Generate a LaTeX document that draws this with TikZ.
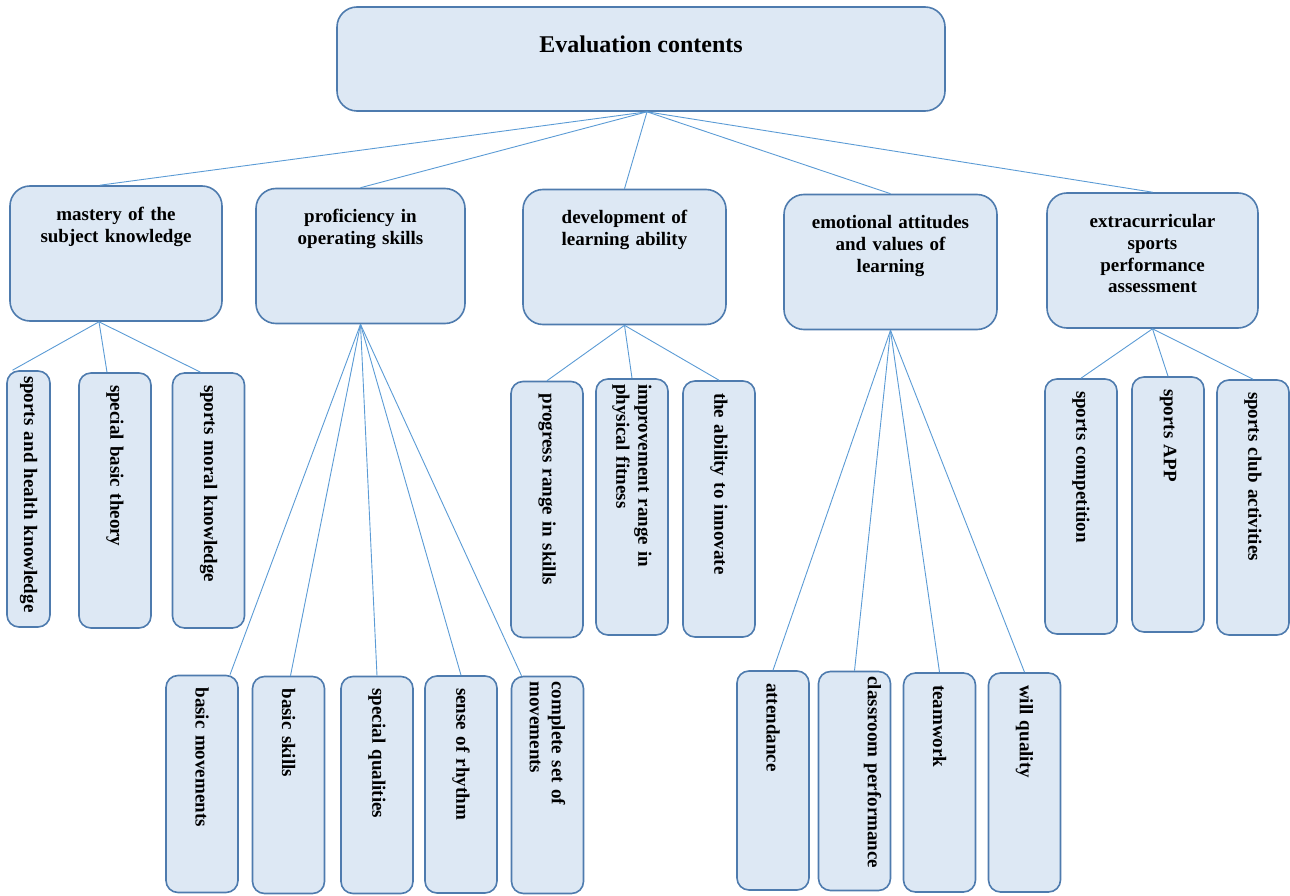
\documentclass[tikz,border=0pt]{standalone}
\usepackage{fontspec}
\setmainfont{Liberation Serif}
\definecolor{boxfill}{HTML}{DDE8F4}
\definecolor{boxline}{HTML}{4E7BAE}
\definecolor{linkline}{HTML}{5B9BD5}

\begin{document}
\begin{tikzpicture}[x=1pt,y=-1pt,
  every node/.style={draw=boxline,fill=boxfill,line width=1.6pt,font=\bfseries\fontsize{19}{22}\selectfont},
  root/.style={rounded corners=20pt,minimum width=608pt,text height=46pt,text depth=58pt,inner ysep=0pt,font=\bfseries\fontsize{24}{28}\selectfont},
  cat/.style={rounded corners=20pt,text width=190pt,align=center,text height=34pt,text depth=101pt,inner ysep=0pt,inner xsep=4pt},
  leaf/.style={rounded corners=12pt,rotate=-90,align=left,inner xsep=12pt,inner ysep=0pt,minimum height=72pt},
  link/.style={draw=linkline,line width=0.9pt}]
\useasboundingbox (0,0) rectangle (1290,896);
\node[root] (root) at (641,59) {Evaluation contents};
\node[cat,minimum width=212pt] (know) at (116,253.5) {mastery of the\\subject knowledge};
\node[cat,minimum width=209pt] (skill) at (360.5,256) {proficiency in\\operating skills};
\node[cat,minimum width=203pt] (learn) at (624.5,257) {development of\\learning ability};
\node[cat,minimum width=213pt] (emo) at (890.5,262) {emotional attitudes\\and values of\\learning};
\node[cat,minimum width=211pt] (extra) at (1152.5,260.5) {extracurricular\\sports\\performance\\assessment};
% knowledge
\node[leaf,text width=246pt,inner xsep=5pt,minimum height=43pt] (k1) at (28.5,499) {sports and health knowledge};
\node[leaf,text width=231pt] (k2) at (115,500.5) {special basic theory};
\node[leaf,text width=231pt] (k3) at (208.5,500.5) {sports moral knowledge};
% skills
\node[leaf,text width=193pt] (s1) at (202,784) {basic movements};
\node[leaf,text width=193pt] (s2) at (288.5,785) {basic skills};
\node[leaf,text width=193pt] (s3) at (377,785) {special qualities};
\node[leaf,text width=193pt] (s4) at (461,784.5) {sense of rhythm};
\node[leaf,text width=207pt,inner xsep=5pt] (s5) at (547.5,785) {complete set of\\movements};
% learning ability
\node[leaf,text width=232pt] (l1) at (547,509.5) {progress range in skills};
\node[leaf,text width=246pt,inner xsep=5pt] (l2) at (632,507) {improvement range in\\physical fitness};
\node[leaf,text width=232pt] (l3) at (719,509) {the ability to innovate};
% emotional attitudes
\node[leaf,text width=195pt] (e1) at (773,780.5) {attendance};
\node[leaf,text width=209pt,inner xsep=5pt,text depth=40pt] (e2) at (854.5,781) {classroom performance};
\node[leaf,text width=195pt] (e3) at (939.5,782.5) {teamwork};
\node[leaf,text width=195pt] (e4) at (1024.5,782.5) {will quality};
% extracurricular
\node[leaf,text width=231pt] (x1) at (1081,506.5) {sports competition};
\node[leaf,text width=231pt] (x2) at (1168,504.5) {sports APP};
\node[leaf,text width=231pt] (x3) at (1253,507.5) {sports club activities};
% connectors
\coordinate (r) at ([xshift=6pt]root.south);
\draw[link] (r) -- ([xshift=-16pt]know.north);
\foreach \c in {skill,learn,emo,extra} \draw[link] (r) -- (\c.north);
\draw[link] ([xshift=-17pt]know.south) -- ([xshift=-16pt]k1.west);
\draw[link] ([xshift=-17pt]know.south) -- ([xshift=-8pt]k2.west);
\draw[link] ([xshift=-17pt]know.south) -- ([xshift=-8pt]k3.west);
\draw[link] (skill.south) -- ([xshift=28pt]s1.west);
\draw[link] (skill.south) -- ([xshift=2pt]s2.west);
\draw[link] (skill.south) -- (s3.west);
\draw[link] (skill.south) -- (s4.west);
\draw[link] (skill.south) -- ([xshift=-26pt]s5.west);
\foreach \c in {l1,l2,l3} \draw[link] (learn.south) -- (\c.west);
\foreach \c in {e1,e2,e3,e4} \draw[link] (emo.south) -- (\c.west);
\foreach \c in {x1,x2,x3} \draw[link] (extra.south) -- (\c.west);
\end{tikzpicture}
\end{document}
